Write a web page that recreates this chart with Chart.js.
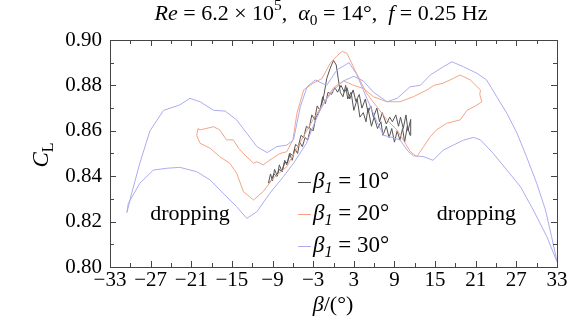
<!DOCTYPE html>
<html>
<head>
<meta charset="utf-8">
<script src="https://cdn.jsdelivr.net/npm/chart.js@4.4.1/dist/chart.umd.min.js"></script>
<style>
  html, body { margin: 0; padding: 0; background: #fff; }
  #wrap { width: 588px; height: 327px; }
</style>
</head>
<body>
<div id="wrap"><canvas id="grafica" width="588" height="327"></canvas></div>
<script>
// C_L loops against beta, one [beta, CL] list per amplitude
const loop10 = [
  [-9.6,0.837],[-9.3,0.841],[-9.0,0.838],[-8.7,0.843],[-8.3,0.840],[-8.0,0.845],[-7.6,0.842],[-7.2,0.847],
  [-6.9,0.845],[-6.5,0.850],[-6.1,0.847],[-5.7,0.852],[-5.3,0.850],[-5.0,0.855],[-4.6,0.853],[-4.2,0.857],
  [-3.8,0.856],[-3.4,0.861],[-3.0,0.860],[-2.6,0.866],[-2.2,0.868],[-1.8,0.871],[-1.4,0.876],[-1.0,0.883],
  [-0.5,0.8875],[0.0,0.891],[0.4,0.889],[0.7,0.883],[1.0,0.877],[1.4,0.875],[1.8,0.880],[2.1,0.874],
  [2.6,0.877],[3.0,0.869],[3.5,0.874],[3.9,0.866],[4.4,0.868],[4.8,0.864],[5.1,0.870],[5.6,0.862],
  [6.0,0.866],[6.5,0.861],[7.0,0.864],[7.3,0.858],[7.8,0.862],[8.2,0.857],[8.6,0.861],[9.0,0.855],
  [9.4,0.860],[9.8,0.856],[10.2,0.861],[10.5,0.855],[10.9,0.862],[11.3,0.858],
  [11.4,0.865],[11.0,0.860],[10.7,0.867],[10.3,0.861],[9.9,0.866],[9.6,0.862],[9.2,0.867],[8.7,0.864],
  [8.3,0.866],[7.8,0.863],[7.2,0.868],[6.8,0.864],[6.4,0.870],[5.9,0.866],[5.5,0.871],[5.1,0.868],
  [4.7,0.874],[4.2,0.870],[3.8,0.876],[3.3,0.873],[2.9,0.878],[2.4,0.874],[2.0,0.879],[1.6,0.877],
  [1.1,0.880],[0.6,0.877],[0.2,0.879],[-0.3,0.876],[-0.8,0.877],[-1.2,0.872],[-1.6,0.875],[-2.0,0.869],
  [-2.4,0.871],[-2.8,0.865],[-3.2,0.867],[-3.6,0.861],[-4.0,0.862],[-4.4,0.857],[-4.8,0.858],[-5.2,0.853],
  [-5.6,0.854],[-6.0,0.849],[-6.4,0.850],[-6.8,0.846],[-7.2,0.846],[-7.6,0.842],[-8.0,0.843],[-8.4,0.840],
  [-8.8,0.841],[-9.2,0.838],[-9.6,0.837]
];

const loop20 = [
  [-20.0,0.861],[-19.7,0.8604],[-18.7,0.8611],[-17.7,0.8618],[-16.8,0.8604],[-15.8,0.856],[-14.8,0.856],
  [-14.0,0.8523],[-13.3,0.850],[-12.3,0.8471],[-11.8,0.8457],[-11.3,0.8464],[-10.4,0.845],[-9.4,0.8471],
  [-7.9,0.850],[-6.9,0.8508],[-6.0,0.856],[-5.4,0.8677],[-4.4,0.878],[-3.0,0.881],[-1.7,0.883],
  [-0.5,0.8897],[0.5,0.893],[1.3,0.895],[2.0,0.8941],[3.4,0.8853],[4.9,0.8765],[6.4,0.8706],[7.9,0.8648],
  [9.35,0.8604],[10.3,0.856],[11.3,0.851],[12.3,0.8486],[13.3,0.853],[14.3,0.8574],[15.2,0.8604],
  [16.7,0.8633],[18.7,0.8648],[19.7,0.869],[21.0,0.871],[21.9,0.8728],[21.6,0.876],[21.7,0.878],
  [20.2,0.8824],[18.7,0.8846],[17.7,0.8831],[16.2,0.881],[14.8,0.880],[13.8,0.878],[11.8,0.875],
  [9.8,0.8728],[7.9,0.8728],[5.9,0.875],[4.4,0.8787],[3.0,0.880],[1.5,0.882],[0.0,0.879],[-1.5,0.872],
  [-3.0,0.865],[-4.9,0.855],[-6.9,0.8442],[-8.9,0.8391],[-10.4,0.8332],[-11.8,0.8295],[-13.3,0.8332],
  [-14.3,0.8413],[-15.3,0.8457],[-16.8,0.8486],[-18.2,0.8523],[-19.7,0.8545],[-20.2,0.858],[-20.0,0.861]
];

const loop30 = [
  [-30.5,0.824],[-29.8,0.8325],[-28.6,0.8457],[-27.1,0.860],[-25.1,0.869],[-22.7,0.8714],[-21.2,0.8743],
  [-19.7,0.8728],[-17.7,0.869],[-16.0,0.8687],[-14.3,0.8648],[-12.8,0.8589],[-11.3,0.853],[-9.8,0.8504],
  [-8.4,0.853],[-6.9,0.8537],[-5.9,0.856],[-4.9,0.8706],[-3.9,0.8794],[-2.7,0.8824],[-1.0,0.880],
  [0.5,0.8868],[2.3,0.890],[3.4,0.885],[4.4,0.878],[5.4,0.871],[6.4,0.864],[7.4,0.858],[8.8,0.857],
  [9.8,0.856],[11.0,0.851],[11.8,0.849],[13.3,0.8486],[14.7,0.847],[16.2,0.8515],[17.7,0.8537],
  [19.2,0.8559],[20.7,0.8571],[21.7,0.856],[23.6,0.850],[25.6,0.8427],[27.6,0.8354],[29.5,0.8251],
  [31.5,0.8134],[33.0,0.8023],
  [32.2,0.8134],[31.3,0.8251],[30.0,0.8369],[28.5,0.8486],[27.1,0.8589],[25.6,0.8677],[24.1,0.875],
  [22.6,0.8824],[21.2,0.8853],[19.2,0.8882],[17.5,0.8904],[16.2,0.8882],[14.3,0.8846],[12.8,0.880],
  [11.3,0.8794],[9.4,0.8743],[7.9,0.8728],[5.9,0.877],[4.4,0.882],[3.0,0.884],[1.5,0.882],[0.0,0.878],
  [-1.0,0.874],[-2.0,0.869],[-3.0,0.862],[-4.0,0.8545],[-5.9,0.8457],[-7.4,0.8398],[-9.4,0.8325],
  [-11.3,0.8244],[-12.8,0.8214],[-14.3,0.8266],[-16.3,0.8325],[-18.2,0.8383],[-20.2,0.842],[-22.7,0.8439],
  [-24.6,0.8435],[-26.6,0.8427],[-28.6,0.8369],[-30.3,0.828],[-30.5,0.824]
];

const amplitudes = ['10°', '20°', '30°'];
const lineColors = ['#555555', '#f4a486', '#acacee'];
const notes = [['dropping', -21.2, 0.8233], ['dropping', 21.1, 0.8233]];

const SERIF = '"Liberation Serif", "Times New Roman", Times, serif';

function fontFor(style, size) {
  const small = style.includes('sub') || style.includes('sup');
  return (style.startsWith('i') ? 'italic ' : '') + (small ? size * 0.7 : size) + 'px ' + SERIF;
}

// draws a run of text pieces: [text, style] with style '', 'i', 'sub', 'isub', 'sup'
function richText(ctx, parts, x, y, size, align) {
  const widths = parts.map(p => { ctx.font = fontFor(p[1], size); return ctx.measureText(p[0]).width; });
  const total = widths.reduce((a, b) => a + b, 0);
  let cx = align === 'center' ? x - total / 2 : x;
  ctx.textAlign = 'left';
  ctx.textBaseline = 'middle';
  parts.forEach((p, i) => {
    ctx.font = fontFor(p[1], size);
    let dy = 0;
    if (p[1].includes('sub')) dy = size * 0.3;
    if (p[1].includes('sup')) dy = -size * 0.35;
    ctx.fillText(p[0], cx, y + dy);
    cx += widths[i];
  });
}

const decoraciones = {
  id: 'decoraciones',
  afterDraw(chart) {
    const ctx = chart.ctx;
    const ca = chart.chartArea;
    const xs = chart.scales.x, ys = chart.scales.y;
    ctx.save();
    // frame with inward ticks on every side
    ctx.strokeStyle = '#444';
    ctx.lineWidth = 1;
    ctx.strokeRect(Math.round(ca.left) + 0.5, Math.round(ca.top) + 0.5,
                   Math.round(ca.right - ca.left), Math.round(ca.bottom - ca.top));
    ctx.beginPath();
    xs.ticks.forEach(t => {
      const px = Math.round(xs.getPixelForValue(t.value)) + 0.5;
      const len = t.label ? 6 : 4;
      ctx.moveTo(px, ca.bottom); ctx.lineTo(px, ca.bottom - len);
      ctx.moveTo(px, ca.top); ctx.lineTo(px, ca.top + len);
    });
    ys.ticks.forEach(t => {
      const py = Math.round(ys.getPixelForValue(t.value)) + 0.5;
      const len = t.label ? 6 : 4;
      ctx.moveTo(ca.left, py); ctx.lineTo(ca.left + len, py);
      ctx.moveTo(ca.right, py); ctx.lineTo(ca.right - len, py);
    });
    ctx.stroke();

    ctx.fillStyle = '#000';
    // title
    richText(ctx, [['Re', 'i'], [' = 6.2 × 10', ''], ['5', 'sup'], [',  ', ''], ['α', 'i'], ['0', 'sub'],
                   [' = 14°,  ', ''], ['f', 'i'], [' = 0.25 Hz', '']], 321, 14, 22, 'center');
    // axis titles
    richText(ctx, [['β', 'i'], ['/(°)', '']], 333, 305, 22, 'center');
    ctx.save();
    ctx.translate(42, 155);
    ctx.rotate(-Math.PI / 2);
    richText(ctx, [['C', 'i'], ['L', 'sub']], 0, 0, 23, 'center');
    ctx.restore();

    // text notes inside the plot
    notes.forEach(n => {
      ctx.font = '22px ' + SERIF;
      ctx.textAlign = 'center';
      ctx.textBaseline = 'middle';
      ctx.fillText(n[0], xs.getPixelForValue(n[1]), ys.getPixelForValue(n[2]));
    });

    // legend
    amplitudes.forEach((a, i) => {
      const y = 182 + i * 32;
      ctx.strokeStyle = lineColors[i];
      ctx.beginPath();
      ctx.moveTo(298, y + 0.5); ctx.lineTo(311, y + 0.5);
      ctx.stroke();
      ctx.fillStyle = '#000';
      richText(ctx, [['β', 'i'], ['1', 'isub'], [' = ' + a, '']], 313, y, 23, 'left');
    });
    ctx.restore();
  }
};

const loops = [loop10, loop20, loop30];
const datasets = loops.map((loop, i) => ({
  label: 'β1 = ' + amplitudes[i],
  data: loop.map(p => ({ x: p[0], y: p[1] })),
  showLine: true,
  borderColor: lineColors[i],
  borderWidth: 1,
  pointRadius: 0,
  tension: 0,
  order: 3 - i,
}));

const config = {
  type: 'scatter',
  data: { datasets: datasets },
  options: {
    responsive: false,
    animation: false,
    layout: { padding: { top: 40, right: 31, left: 0, bottom: 0 } },
    plugins: { legend: { display: false }, tooltip: { enabled: false } },
    scales: {
      x: {
        min: -33, max: 33,
        grid: { display: false, drawTicks: false },
        border: { display: false },
        afterFit: s => { s.height = 60; },
        ticks: {
          stepSize: 3, autoSkip: false, maxRotation: 0, padding: 1,
          color: '#000', font: { family: SERIF, size: 21 },
          callback: v => ((Math.round(v) + 33) % 6 === 0 ? String(Math.round(v)).replace('-', '−') : ''),
        },
      },
      y: {
        min: 0.80, max: 0.90,
        grid: { display: false, drawTicks: false },
        border: { display: false },
        afterFit: s => { s.width = 110; },
        ticks: {
          stepSize: 0.01, autoSkip: false, padding: 8,
          color: '#000', font: { family: SERIF, size: 21 },
          callback: v => (Math.round(v * 100) % 2 === 0 ? v.toFixed(2) : ''),
        },
      },
    },
  },
  plugins: [decoraciones],
};

// make sure the serif face is ready before drawing
Promise.all([
  document.fonts.load('21px "Liberation Serif"'),
  document.fonts.load('italic 21px "Liberation Serif"'),
]).catch(() => {}).then(() => {
  new Chart(document.getElementById('grafica').getContext('2d'), config);
});
</script>
</body>
</html>
